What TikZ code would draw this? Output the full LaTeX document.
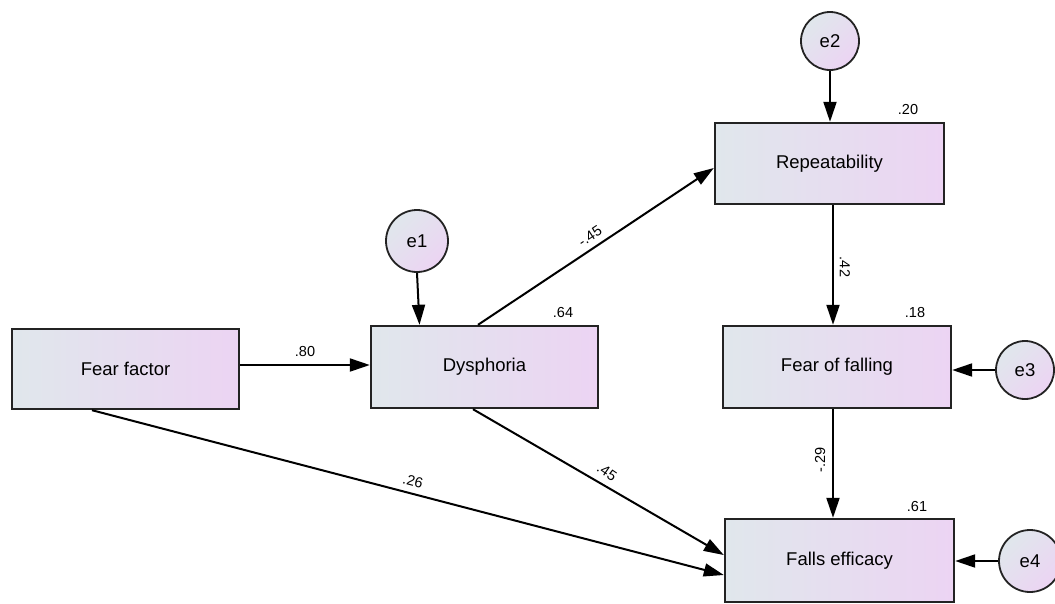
\documentclass[tikz,border=0pt]{standalone}
\usepackage{fontspec}
\setmainfont{Liberation Sans}
\usetikzlibrary{arrows.meta,calc}
\definecolor{gl}{RGB}{224,231,236}
\definecolor{gr}{RGB}{236,212,243}
\definecolor{bd}{RGB}{35,35,35}
\tikzset{
  var/.style={draw=bd,line width=2.4pt,left color=gl,right color=gr,minimum width=#1,minimum height=82pt,inner sep=0pt,font=\fontsize{18.5}{21}\selectfont},
  err/.style={circle,draw=bd,line width=1.8pt,left color=gl,right color=gr,shading angle=45,minimum size=#1,inner sep=0pt,font=\fontsize{18.5}{21}\selectfont},
  path/.style={line width=2pt,-{Triangle[length=20pt,width=13pt]}},
  coef/.style={font=\fontsize{14.5}{16}\selectfont,inner sep=0pt}
}
\begin{document}
\begin{tikzpicture}[x=1pt,y=-1pt]
\useasboundingbox (0,0) rectangle (1055,603);
\node[var=227pt,minimum height=80pt] (ff) at (125.5,369) {Fear factor};
\node[var=227pt] (dys) at (484.5,367) {Dysphoria};
\node[var=229pt,minimum height=81pt] (rep) at (829.5,163.5) {Repeatability};
\node[var=228pt] (fof) at (837,367) {Fear of falling};
\node[var=229pt,minimum height=83pt] (fe) at (839.5,560.5) {Falls efficacy};
\node[err=62pt] (e1) at (417,241) {e1};
\node[err=58pt] (e2) at (830,41) {e2};
\node[err=58pt] (e3) at (1025,370) {e3};
\node[err=62pt] (e4) at (1030,561) {e4};
% paths
\draw[path] ([yshift=4pt]ff.east) -- ([yshift=2pt]dys.west);
\draw[path] ([xshift=-6.5pt]dys.north) -- ([yshift=-4.5pt]rep.west);
\draw[path] ([xshift=-11.5pt]dys.south) -- ([yshift=5.5pt]fe.west);
\draw[path] ([xshift=-33.5pt]ff.south) -- ([yshift=-14.5pt]fe.west);
\draw[path] ([xshift=3.5pt]rep.south) -- ([xshift=-4pt]fof.north);
\draw[path] ([xshift=-4pt]fof.south) -- ([xshift=-6.5pt]fe.north);
\draw[path] (e1.south) -- ([xshift=-65pt]dys.north);
\draw[path] (e2.south) -- (e2.south |- rep.north);
\draw[path] (e3.west) -- (e3.west -| fof.east);
\draw[path] (e4.west) -- (e4.west -| fe.east);
% coefficients
\node[coef] (c1) at (305,352) {.80};
\node[coef,rotate=33.7] (c2) at (590,236) {-.45};
\node[coef,rotate=-34.3] (c3) at (607,472) {.45};
\node[coef,rotate=-14.7] (c4) at (413,481) {.26};
\node[coef,rotate=-90] (c5) at (845,267) {.42};
\node[coef,rotate=90] (c6) at (820,460) {-.29};
\node[coef] (r1) at (563,313) {.64};
\node[coef] (r2) at (908,110) {.20};
\node[coef] (r3) at (915,313) {.18};
\node[coef] (r4) at (917,506) {.61};
\end{tikzpicture}
\end{document}
